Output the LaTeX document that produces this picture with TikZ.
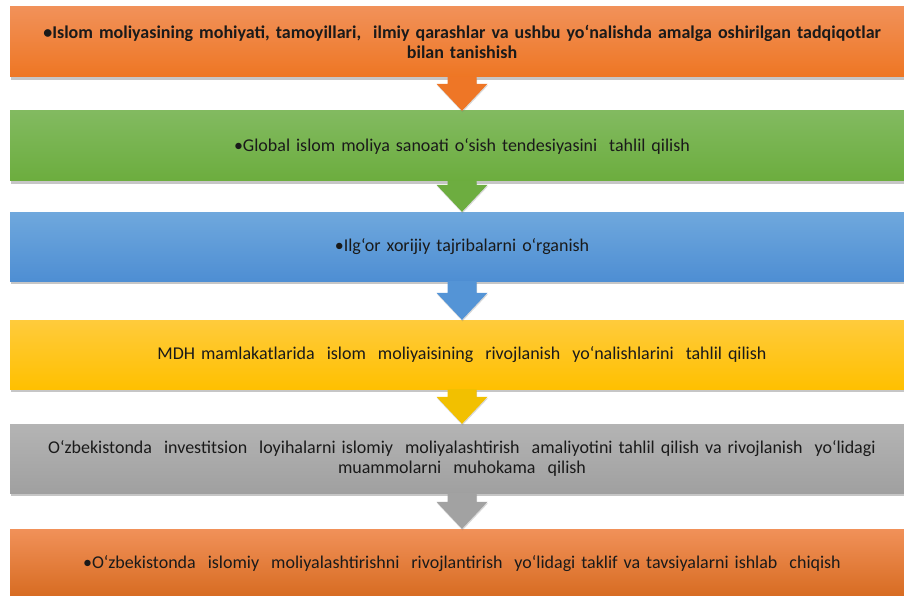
\documentclass[tikz,border=0pt]{standalone}
\usepackage{fontspec}
\setmainfont{Carlito}
\usepackage{tikz}
\usetikzlibrary{calc,shadows}

\definecolor{orgtop}{HTML}{F19159}
\definecolor{orgbot}{HTML}{EE7623}
\definecolor{grntop}{HTML}{82BA60}
\definecolor{grnbot}{HTML}{6CAD3E}
\definecolor{blutop}{HTML}{6FA8DD}
\definecolor{blubot}{HTML}{4E8ED3}
\definecolor{yeltop}{HTML}{FFCB3C}
\definecolor{yelbot}{HTML}{FFC000}
\definecolor{grytop}{HTML}{B4B4B4}
\definecolor{grybot}{HTML}{A0A0A0}
\definecolor{arrorg}{HTML}{EE7626}
\definecolor{arrgrn}{HTML}{6DAD40}
\definecolor{arrblu}{HTML}{5494D6}
\definecolor{arryel}{HTML}{F2C000}
\definecolor{arrgry}{HTML}{A2A2A2}
\definecolor{txt}{HTML}{1A1A1A}

\begin{document}
\begin{tikzpicture}[x=1pt, y=1pt,
    stage/.style={rectangle, minimum width=904pt, minimum height=70pt, text width=880pt,
        align=center, inner sep=0pt, text=txt, font=\fontsize{18}{20.5}\selectfont,
        drop shadow={opacity=0.45, shadow xshift=0.5pt, shadow yshift=-3pt}}]
	\useasboundingbox (0,0) rectangle (904,-596);
	\clip (0,0) rectangle (904,-596);

	\node[stage, top color=orgtop, bottom color=orgbot, font=\fontsize{18}{20.5}\selectfont\bfseries] (intro) at (462,-42)
	    {•Islom moliyasining mohiyati, tamoyillari,\ \ ilmiy qarashlar va ushbu yo‘nalishda amalga oshirilgan tadqiqotlar\\bilan tanishish};
	\node[stage, top color=grntop, bottom color=grnbot] (global) at (462,-146)
	    {•Global islom moliya sanoati o‘sish tendesiyasini\ \ tahlil qilish};
	\node[stage, top color=blutop, bottom color=blubot, minimum height=69pt] (tajriba) at (462,-246.5)
	    {•Ilg‘or xorijiy tajribalarni o‘rganish};
	\node[stage, top color=yeltop, bottom color=yelbot, minimum height=69pt] (mdh) at (462,-354.5)
	    {MDH mamlakatlarida\ \ islom\ \ moliyaisining\ \ rivojlanish\ \ yo‘nalishlarini\ \ tahlil qilish};
	\node[stage, top color=grytop, bottom color=grybot, minimum height=69pt] (uzb) at (462,-458.5)
	    {O‘zbekistonda\ \ investitsion\ \ loyihalarni islomiy\ \ moliyalashtirish\ \ amaliyotini tahlil qilish va rivojlanish\ \ yo‘lidagi\\muammolarni\ \ muhokama\ \ qilish};
	\node[stage, top color=orgtop, bottom color=orgbot!90!black] (taklif) at (462,-564)
	    {•O‘zbekistonda\ \ islomiy\ \ moliyalashtirishni\ \ rivojlantirish\ \ yo‘lidagi taklif va tavsiyalarni ishlab\ \ chiqish};

	% block arrows between the stages
	\foreach \from/\to/\col in {intro/global/arrorg, global/tajriba/arrgrn, tajriba/mdh/arrblu, mdh/uzb/arryel, uzb/taklif/arrgry}
	    \fill[\col, drop shadow={opacity=0.3, shadow xshift=0.5pt, shadow yshift=-1.5pt}]
	        ($(\from.south)+(-14.5,0)$) -- ($(\from.south)+(14.5,0)$) -- ($(\to.north)+(14.5,27)$)
	        -- ($(\to.north)+(25.5,27)$) -- (\to.north) -- ($(\to.north)+(-25.5,27)$)
	        -- ($(\to.north)+(-14.5,27)$) -- cycle;

\end{tikzpicture}
\end{document}
